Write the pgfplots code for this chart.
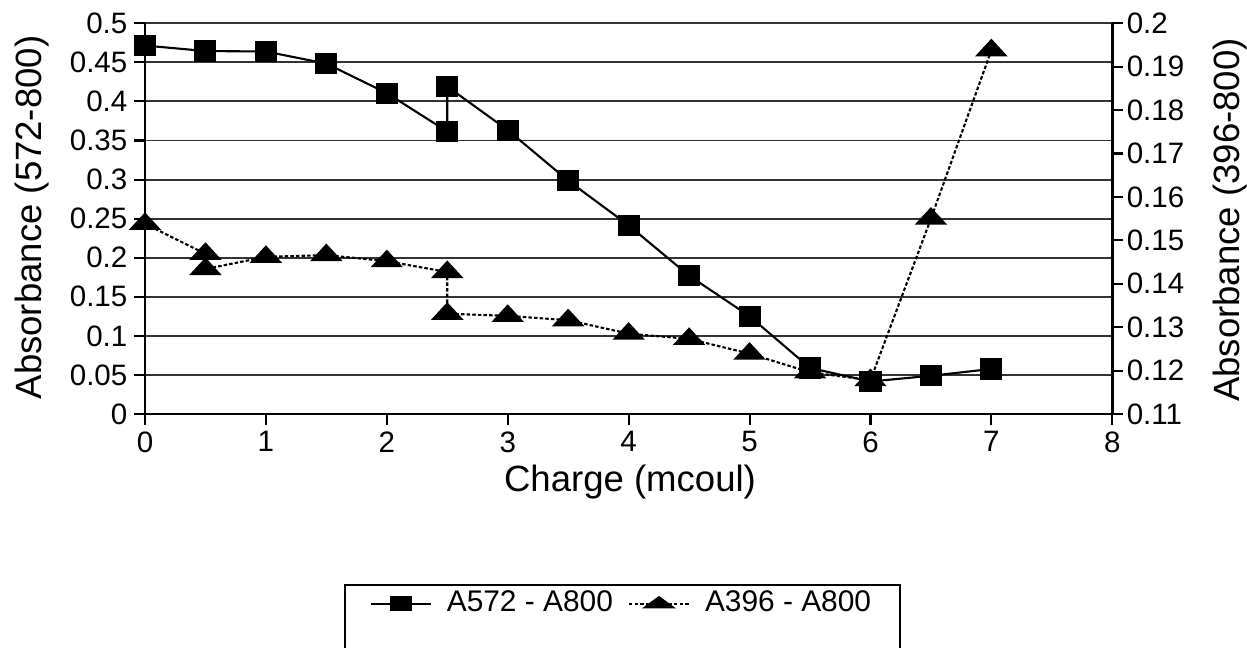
\documentclass[border=0pt]{standalone}
\usepackage{fontspec}
\setmainfont{Liberation Sans}
\usepackage{pgfplots}
\pgfplotsset{compat=1.18}

% Absorbance difference at 572 nm (left axis) and 396 nm (right axis)
% against the charge passed.
\pgfplotstableread{
x     y
0     0.4715
0.5   0.4645
1     0.4639
1.5   0.4484
2     0.4106
2.5   0.3615
2.5   0.4191
3     0.3633
3.5   0.2986
4     0.2414
4.5   0.1770
5     0.1251
5.5   0.0589
6     0.0416
6.5   0.0489
7     0.0576
}\tabA
\pgfplotstableread{
x     y
0     0.1538
0.5   0.1469
0.5   0.1434
1     0.1462
1.5   0.1466
2     0.1452
2.5   0.1427
2.5   0.1331
3     0.1326
3.5   0.1316
4     0.1285
4.5   0.1273
5     0.1239
5.5   0.1196
6     0.1178
6.5   0.1550
7     0.1938
}\tabB

\pgfplotsset{
  common/.style={
    scale only axis, width=9.673cm, height=3.907cm,
    at={(0,0)}, anchor=south west,
    xmin=0, xmax=8, clip=false,
    tick align=outside, major tick length=0.11cm,
    every tick/.style={black, line width=0.6pt},
    axis line style={line width=0.7pt},
    ticklabel style={font=\fontsize{8.4}{10}\selectfont},
    label style={font=\fontsize{10.4}{12}\selectfont},
    /pgf/number format/assume math mode=true,
    yticklabel style={/pgf/number format/fixed, /pgf/number format/precision=2},
  },
  sq/.style={black, line width=0.6pt, mark=square*, mark size=0.95mm,
    mark options={solid, xscale=1.05}},
  tri/.style={black, line width=0.6pt, dash pattern=on 1pt off 0.6pt,
    mark=triangle*, mark size=1mm, mark options={solid, xscale=1.6}},
}

\begin{document}
\begin{tikzpicture}
\begin{axis}[common,
  axis x line*=bottom, axis y line*=left,
  ymin=0, ymax=0.5,
  ytick={0,0.05,0.1,0.15,0.2,0.25,0.3,0.35,0.4,0.45,0.5},
  xtick={0,1,2,3,4,5,6,7,8},
  ymajorgrids, major grid style={black!80, line width=0.55pt},
  xticklabel style={inner sep=1.7pt},
  yticklabel style={inner sep=1.7pt},
  xlabel={Charge (mcoul)},
  ylabel={Absorbance (572-800)},
  xlabel style={at={(axis description cs:0.5014,0)}, anchor=base, yshift=-0.78cm},
  ylabel style={at={(axis description cs:-0.1065,0.503)}, anchor=base},
  legend columns=2,
  legend image post style={every mark/.append style={yscale=0.68}},
  legend style={at={(0.2316,-0.4863)}, anchor=west, draw=none, fill=none,
    inner sep=0pt, nodes={inner sep=0pt},
    font=\fontsize{8.5}{10}\selectfont, /tikz/column sep=0.15cm},
]
\addplot[sq] table[x=x, y=y] {\tabA};
\addlegendentry{A572 - A800}
\addlegendimage{tri}
\addlegendentry{A396 - A800}
\end{axis}

\begin{axis}[common,
  axis x line=none, axis y line*=right,
  ymin=0.11, ymax=0.2,
  ytick={0.11,0.12,0.13,0.14,0.15,0.16,0.17,0.18,0.19,0.2},
  yticklabel style={inner sep=0.8pt},
  ylabel={Absorbance (396-800)},
  ylabel style={at={(axis description cs:1.132,0.4965)}, anchor=base, rotate=0},
]
\addplot[tri] table[x=x, y=y] {\tabB};
\end{axis}

% legend frame, running past the lower edge
\draw[line width=0.6pt] (2.00,-2.40) |- (7.55,-1.71) -- (7.55,-2.40);

\pgfresetboundingbox
\useasboundingbox (-1.45,-2.34) rectangle (11.02,4.14);
\end{tikzpicture}
\end{document}
